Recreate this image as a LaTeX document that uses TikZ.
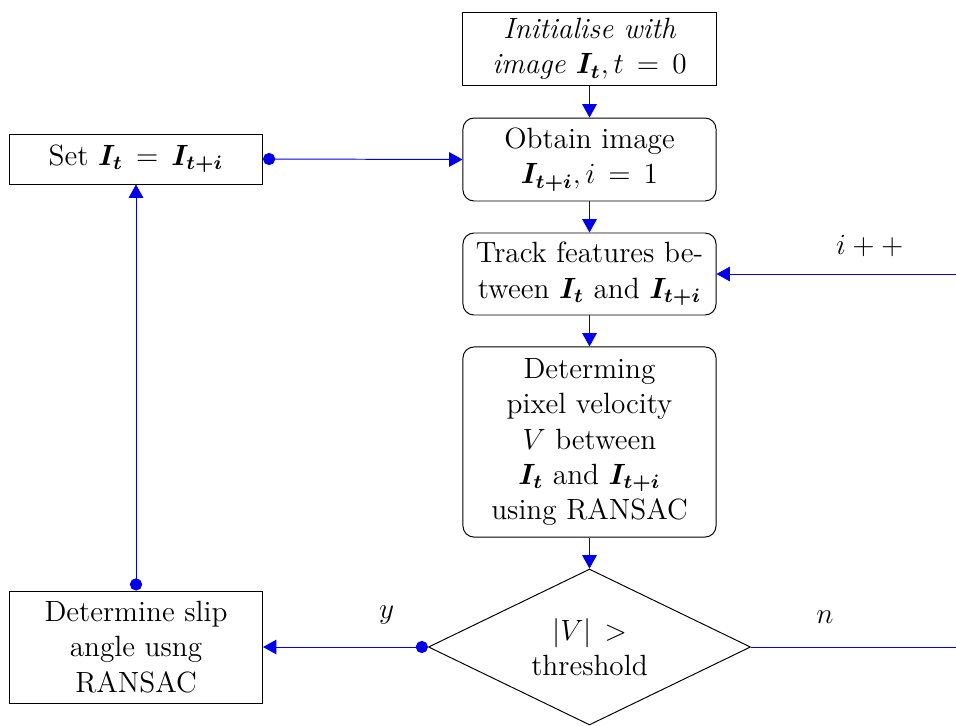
\documentclass[tikz,border=0pt]{standalone}
\usepackage{bm}
\usetikzlibrary{arrows.meta,shapes.geometric}
\definecolor{arrblue}{RGB}{0,0,235}
\newcommand\myrelspace{\thickmuskip=8mu\relax}
\tikzset{
  txt/.style={font=\fontsize{12}{14.5}\selectfont\myrelspace},
  base/.style={draw=black, line width=0.4pt, txt, align=center,
    inner xsep=3pt, inner ysep=2pt, minimum width=103.7pt},
  sqbox/.style={base},
  rbox/.style={base, rounded corners=4.5pt},
  decision/.style={draw=black, line width=0.4pt, diamond, aspect=2.06, txt,
    align=center, inner sep=0pt, minimum width=132pt, minimum height=63.9pt},
  arr/.style={draw=arrblue, line width=0.4pt, -{Triangle[length=5.5pt,width=6pt]}},
  dotarr/.style={draw=arrblue, line width=0.4pt, {Circle[length=5pt]}-{Triangle[length=5.5pt,width=6pt]}},
  plainline/.style={draw=arrblue, line width=0.4pt},
  lbl/.style={txt, inner sep=0pt}
}
\begin{document}
\begin{tikzpicture}[x=0.4098pt, y=-0.4098pt]
\useasboundingbox (0,0) rectangle (956,725);
\node[sqbox, minimum height=30.3pt] (init) at (589.5,49) {\itshape Initialise with\\ \itshape image $\bm{I_t}, t = 0$};
\node[rbox, minimum height=34pt] (obtain) at (589.5,159.5) {Obtain image\\ $\bm{I_{t+i}}, i = 1$};
\node[rbox, minimum height=33.6pt] (track) at (589.5,274) {Track features be-\\tween $\bm{I_t}$ and $\bm{I_{t+i}}$};
\node[rbox, minimum height=77.9pt] (det) at (589.5,442) {Determing\\ pixel velocity\\ $V$ between\\ $\bm{I_t}$ and $\bm{I_{t+i}}$\\ using RANSAC};
\node[decision] (dia) at (589.5,647) {$|V| >$\\ threshold};
\node[sqbox, minimum height=20.5pt] (set) at (136,159) {Set $\bm{I_t} = \bm{I_{t+i}}$};
\node[sqbox, minimum height=45.9pt] (slip) at (136,647) {Determine slip\\ angle usng\\ RANSAC};
\coordinate (rI) at (956,274);
\coordinate (rN) at (956,647);

\draw[arr] (init) -- (obtain);
\draw[arr] (obtain) -- (track);
\draw[arr] (track) -- (det);
\draw[arr] (det) -- (dia);
\draw[dotarr] (dia.west) -- node[lbl, pos=0.25, yshift=13pt] {$y$} (slip.east);
\draw[plainline] (dia.east) -- node[lbl, pos=0.36, yshift=12.3pt] {$n$} (rN);
\draw[arr] (rI) -- node[lbl, pos=0.36, yshift=11.5pt] {$i++$} (track.east);
\draw[dotarr] (slip.north) -- (set.south);
\draw[dotarr] (set.east) -- (obtain.west);
\end{tikzpicture}
\end{document}
